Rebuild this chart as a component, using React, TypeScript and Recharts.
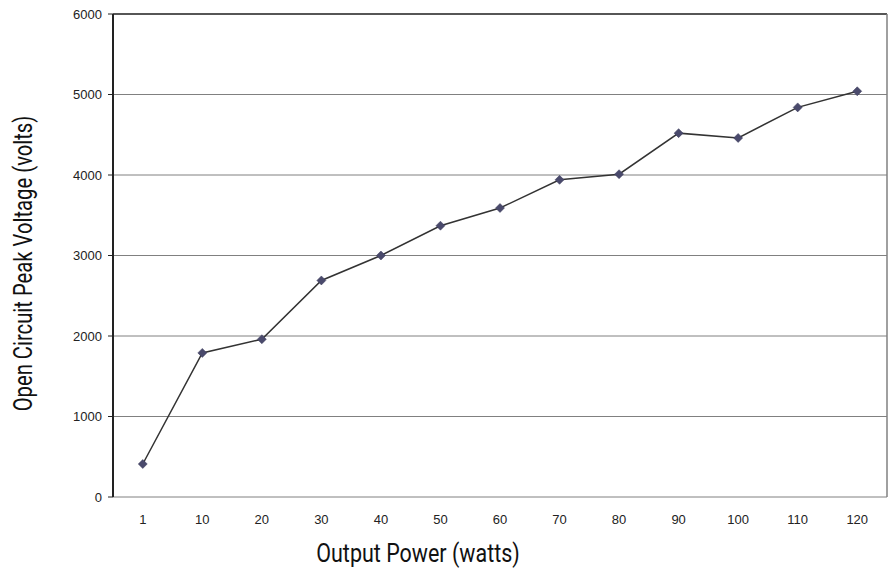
import React from 'react';
import { LineChart, Line, XAxis, YAxis, CartesianGrid, ReferenceLine, Label } from 'recharts';

const categories = ['1', '10', '20', '30', '40', '50', '60', '70', '80', '90', '100', '110', '120'];
const voltage = [410, 1790, 1960, 2690, 3000, 3370, 3590, 3940, 4010, 4520, 4460, 4840, 5040];
const yTicks = [0, 1000, 2000, 3000, 4000, 5000, 6000];
const xTitle = 'Output Power (watts)';
const yTitle = 'Open Circuit Peak Voltage (volts)';

const data = categories.map((c, i) => ({ pos: i + 0.5, label: c, v: voltage[i] }));
const boundaryTicks = categories.map((_, i) => i).concat([categories.length]);
const labelTicks = categories.map((_, i) => i + 0.5);

const titleFont = "Roboto, 'Liberation Sans', sans-serif";
const tickFont = { fontFamily: "'Liberation Sans', Arial, sans-serif", fontSize: 13, fill: '#222' };

const Diamond = (props: any) => {
  const { cx, cy } = props;
  if (cx == null || cy == null) return null;
  const r = 4.5;
  return (
    <path
      d={`M${cx},${cy - r}L${cx + r},${cy}L${cx},${cy + r}L${cx - r},${cy}Z`}
      fill="#4a4a6c"
      stroke="#3a3a5a"
      strokeWidth={0.5}
    />
  );
};

const XTitle = (props: any) => {
  const vb = props.viewBox || { x: 113, y: 497, width: 774, height: 30 };
  const cx = vb.x + vb.width / 2 - 82;
  const by = vb.y + vb.height + 35;
  return (
    <text
      transform={`translate(${cx}, ${by}) scale(0.86, 1)`}
      textAnchor="middle"
      style={{ fontFamily: titleFont, fontSize: 25, fill: '#111' }}
    >
      {xTitle}
    </text>
  );
};

const YTitle = (props: any) => {
  const vb = props.viewBox || { x: 0, y: 14, width: 113, height: 483 };
  const cy = vb.y + vb.height / 2 + 8;
  const cx = vb.x + 24;
  return (
    <text
      transform={`translate(${cx}, ${cy}) rotate(-90) scale(0.81, 1)`}
      textAnchor="middle"
      dominantBaseline="central"
      style={{ fontFamily: titleFont, fontSize: 25, fill: '#111' }}
    >
      {yTitle}
    </text>
  );
};

export default function App() {
  return (
    <div style={{ position: 'absolute', left: 0, top: 0, background: '#fff' }}>
      <LineChart width={893} height={569} data={data} margin={{ top: 14, right: 6, bottom: 42, left: 0 }}>
        <CartesianGrid vertical={false} stroke="#808080" strokeWidth={1} />
        <XAxis
          xAxisId="b"
          dataKey="pos"
          type="number"
          domain={[0, categories.length]}
          ticks={boundaryTicks}
          tickFormatter={() => ''}
          height={0}
          tickSize={5}
          stroke="#222"
          strokeWidth={1.5}
          tickLine={{ stroke: '#222', strokeWidth: 1 }}
        />
        <XAxis
          xAxisId="l"
          dataKey="pos"
          type="number"
          domain={[0, categories.length]}
          ticks={labelTicks}
          tickFormatter={(v: number) => categories[Math.round(v - 0.5)]}
          axisLine={false}
          tickLine={false}
          tickSize={0}
          tickMargin={18}
          height={30}
          tick={tickFont}
          interval={0}
        >
          <Label content={<XTitle />} />
        </XAxis>
        <YAxis
          domain={[0, 6000]}
          ticks={yTicks}
          width={113}
          tickSize={5}
          tickMargin={6}
          tick={tickFont}
          stroke="#222"
          strokeWidth={2}
          tickLine={{ stroke: '#222', strokeWidth: 1 }}
          interval={0}
        >
          <Label content={<YTitle />} />
        </YAxis>
        <ReferenceLine xAxisId="b" y={6000} stroke="#333" strokeWidth={1.5} />
        <ReferenceLine xAxisId="b" x={categories.length} stroke="#808080" strokeWidth={1.5} />
        <Line
          xAxisId="b"
          dataKey="v"
          stroke="#333"
          strokeWidth={1.5}
          dot={<Diamond />}
          activeDot={false}
          isAnimationActive={false}
        />
      </LineChart>
    </div>
  );
}
